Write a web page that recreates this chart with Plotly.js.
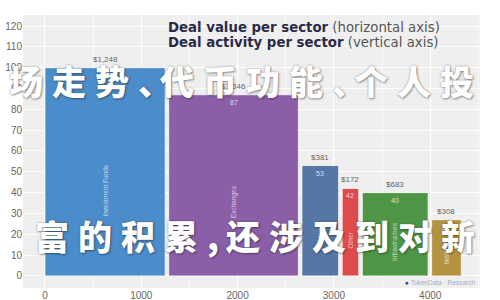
<!DOCTYPE html>
<html>
<head>
<meta charset="utf-8">
<script src="https://cdn.plot.ly/plotly-3.0.1.min.js"></script>
<style>
  html, body { margin: 0; padding: 0; background: #fff; }
  #wrap { position: relative; width: 500px; height: 300px; overflow: hidden; }
  #chart { width: 500px; height: 300px; }
  .wm {
    position: absolute; white-space: nowrap; color: #fff;
    font-family: "Noto Sans CJK SC", sans-serif; font-weight: 900;
    font-size: 34px; line-height: 34px; letter-spacing: 9px;
    text-shadow: 0 0 2px rgba(60,60,60,0.55), 1px 1px 2px rgba(0,0,0,0.35);
    pointer-events: none;
  }
  .wm .p { letter-spacing: -12px; }
  .wm .c { letter-spacing: 7px; }
</style>
</head>
<body>
<div id="wrap">
  <div id="chart"></div>
  <div class="wm" id="wm1" style="left:9px; top:64px;"></div>
  <div class="wm" id="wm2" style="left:35px; top:219px;"></div>
</div>
<script>
// ---- data ----
const categories = ['Investment Funds', 'Exchanges', 'Mining', 'Other', 'Infrastructure', 'Wallets'];
const dealValue = [1248, 1346, 381, 172, 683, 308];          // horizontal axis ($M)
const dealActivity = [100, 87, 53, 42, 40, 27];              // vertical axis (# deals)
const valueLabels = ['$1,248', '$1,346', '$381', '$172', '$683', '$308'];
const xTicks = [0, 1000, 2000, 3000, 4000];
const yTicks = [0, 10, 20, 30, 40, 50, 60, 70, 80, 90, 100, 110, 120];
const legendLines = [
  ['Deal value per sector', '(horizontal axis)'],
  ['Deal activity per sector', '(vertical axis)']
];
const watermarkLines = ['场走势、代币功能、个人投', '富的积累,还涉及到对新'];
const brand = 'TokenData · Research';

// ---- styles ----
const colors = ['#4b8cca', '#8b5ea8', '#5677a6', '#dd4b4b', '#4e9646', '#b39240'];
const gap = 37;

// mekko layout: each bar's width is its deal value
const centers = [];
let acc = 0;
dealValue.forEach((w, i) => {
  const left = acc + i * gap;
  centers.push(left + w / 2);
  acc += w;
});

const trace = {
  type: 'bar',
  x: centers,
  y: dealActivity,
  width: dealValue,
  marker: { color: colors, line: { color: 'rgba(255,255,255,0.75)', width: 1 } },
  hoverinfo: 'none',
  showlegend: false
};

const annotations = [];
categories.forEach((c, i) => {
  annotations.push({
    x: centers[i], y: dealActivity[i], xref: 'x', yref: 'y',
    text: valueLabels[i], showarrow: false, yanchor: 'bottom', yshift: 2,
    font: { family: 'Liberation Sans, Arial, sans-serif', size: 8, color: '#666' }
  });
  annotations.push({
    x: centers[i], y: dealActivity[i], xref: 'x', yref: 'y',
    text: String(dealActivity[i]), showarrow: false, yanchor: 'top', yshift: -2,
    font: { family: 'Liberation Sans, Arial, sans-serif', size: 7, color: 'rgba(255,255,255,0.75)' }
  });
  annotations.push({
    x: centers[i], y: dealActivity[i] * 0.41, xref: 'x', yref: 'y',
    text: c, showarrow: false, textangle: -90,
    font: { family: 'Liberation Sans, Arial, sans-serif', size: 6.5, color: 'rgba(255,255,255,0.65)' }
  });
});
legendLines.forEach((ln, i) => {
  annotations.push({
    xref: 'paper', yref: 'paper', x: 0.313, y: 0.99 - i * 0.055,
    xanchor: 'left', yanchor: 'top', align: 'left', showarrow: false,
    text: '<b>' + ln[0] + '</b> <span style="color:#555;font-weight:normal">' + ln[1] + '</span>',
    font: { family: 'DejaVu Sans, sans-serif', size: 13.3, color: '#2b2b48' }
  });
});
annotations.push({
  xref: 'paper', yref: 'paper', x: 0.995, y: 0.0, xanchor: 'right', yanchor: 'bottom',
  showarrow: false,
  text: '<span style="color:#2d3a7a">●</span> ' + brand,
  font: { family: 'Liberation Sans, Arial, sans-serif', size: 6.5, color: '#9aaed0' }
});

const layout = {
  width: 500, height: 300,
  margin: { l: 23, r: 20, t: 15, b: 12 },
  paper_bgcolor: '#ffffff',
  plot_bgcolor: '#efefef',
  bargap: 0,
  xaxis: {
    range: [-228, 4517], tickvals: xTicks, showline: false, zeroline: false,
    gridcolor: 'rgba(255,255,255,0.9)', gridwidth: 1,
    minor: { dtick: 500, showgrid: true, gridcolor: 'rgba(255,255,255,0.6)' },
    tickfont: { family: 'Liberation Sans, Arial, sans-serif', size: 10, color: '#666' }
  },
  yaxis: {
    range: [-5.8, 125.3], tickvals: yTicks, showline: false, zeroline: false,
    gridcolor: 'rgba(255,255,255,0.9)', gridwidth: 1,
    tickfont: { family: 'Liberation Sans, Arial, sans-serif', size: 10, color: '#666' }
  },
  annotations: annotations
};

Plotly.newPlot('chart', [trace], layout, { staticPlot: true, displayModeBar: false });

function wmHtml(s) {
  return s.split('').map(ch => {
    const esc = ch.replace(/&/g, '&amp;').replace(/</g, '&lt;');
    if (ch === '、') return '<span class="p">' + esc + '</span>';
    if (ch === ',') return '<span class="c">' + esc + '</span>';
    return esc;
  }).join('');
}
document.getElementById('wm1').innerHTML = wmHtml(watermarkLines[0]);
document.getElementById('wm2').innerHTML = wmHtml(watermarkLines[1]);
</script>
</body>
</html>
